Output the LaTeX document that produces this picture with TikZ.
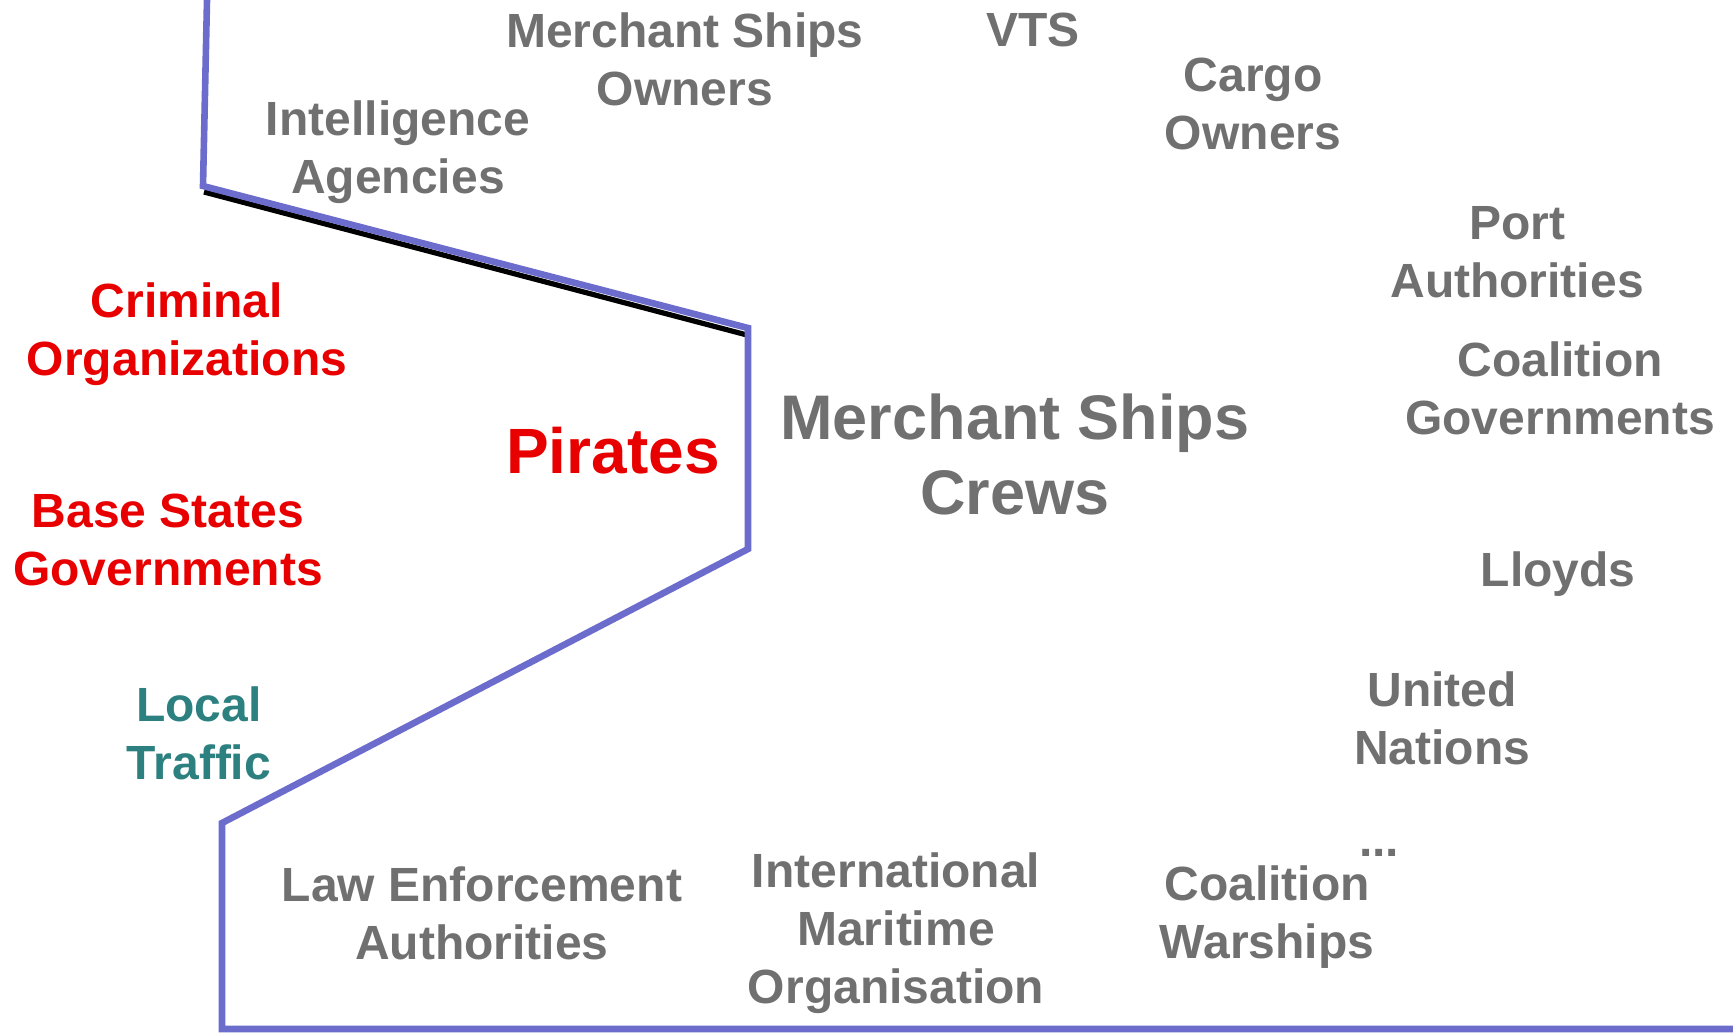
\documentclass[tikz,border=0pt]{standalone}
\usepackage{fontspec}
\setmainfont{Liberation Sans}
\usepackage{xcolor}
\definecolor{actorgrey}{RGB}{112,112,112}
\definecolor{pirred}{RGB}{232,0,0}
\definecolor{localteal}{RGB}{45,128,128}
\definecolor{zoneblue}{RGB}{108,108,204}
\tikzset{
    actor-label/.style = {align=center, inner sep=0pt, font=\fontsize{24}{29}\selectfont\bfseries},
    grey-actor/.style = {actor-label, text=actorgrey},
    red-actor/.style = {actor-label, text=pirred},
    teal-actor/.style = {actor-label, text=localteal},
    zone-line/.style = {draw=zoneblue, line width=3.3pt, line join=miter},
}

\begin{document}
\begin{tikzpicture}[x=0.5pt, y=-0.5pt]
\useasboundingbox (0,0) rectangle (1733,1033);
% boundary between the two sides
\draw[black, line width=2.6pt] (204,192) -- (747,335);
\draw[zone-line] (207,0) -- (203,186) -- (748,328) -- (748,549) -- (222,823) -- (222,1029) -- (1738,1029);

% pirate side
\node[red-actor] (criminal) at (187,334) {Criminal\\Organizations};
\node[red-actor] (basestates) at (168,540) {Base States\\Governments};
\node[teal-actor] (local) at (199,733) {Local\\Traffic};
\node[red-actor, font=\fontsize{32}{38}\selectfont\bfseries] (pirates) at (613,451) {Pirates};

% merchant side
\node[grey-actor, font=\fontsize{31.5}{37.5}\selectfont\bfseries] (crews) at (1015,454) {Merchant Ships\\Crews};
\node[grey-actor] (owners) at (685,59) {Merchant Ships\\Owners};
\node[grey-actor] (vts) at (1033,30) {VTS};
\node[grey-actor] (cargo) at (1253,104) {Cargo\\Owners};
\node[grey-actor] (intel) at (398,152) {Intelligence\\Agencies};
\node[grey-actor] (port) at (1517,252) {Port\\Authorities};
\node[grey-actor] (coalgov) at (1560,388) {Coalition\\Governments};
\node[grey-actor] (lloyds) at (1558,574) {Lloyds};
\node[grey-actor] (un) at (1442,718) {United\\Nations};
\node[grey-actor] (law) at (482,913) {Law Enforcement\\Authorities};
\node[grey-actor] (imo) at (896,933) {International\\Maritime\\Organisation};
\node[grey-actor] (warships) at (1267,917) {Coalition\\Warships};
\node[grey-actor, anchor=base] (more) at (1379,856) {...};
\end{tikzpicture}
\end{document}
